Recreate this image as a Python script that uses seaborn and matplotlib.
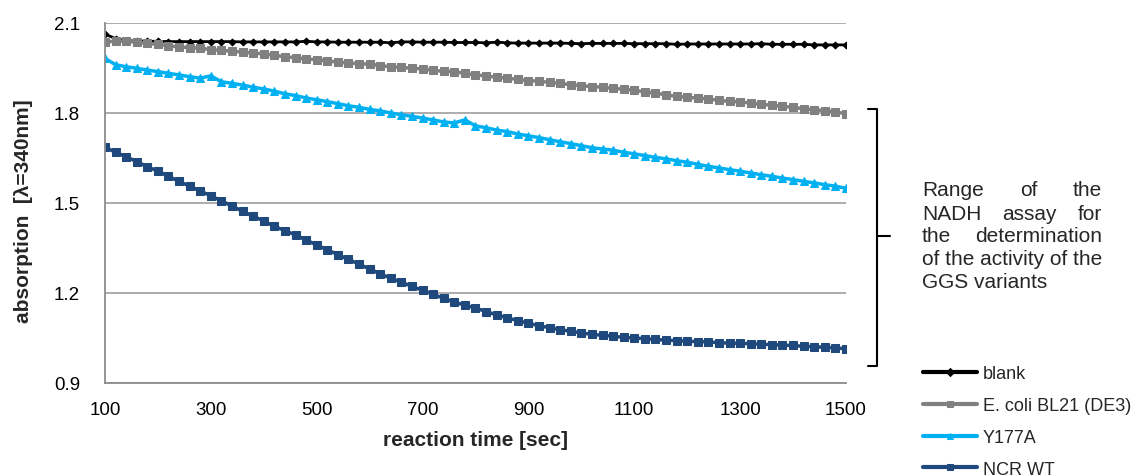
import pandas as pd
import matplotlib
matplotlib.use("Agg")
import matplotlib.pyplot as plt
import seaborn as sns
from matplotlib.ticker import FormatStrFormatter

# time points of the NADH assay, one reading every 20 sec
time_sec = list(range(100, 1501, 20))

# absorption at 340 nm
blank = [2.063, 2.048, 2.041, 2.040, 2.039, 2.039, 2.038, 2.038, 2.038, 2.038,
         2.038, 2.038, 2.038, 2.037, 2.037, 2.037, 2.037, 2.037, 2.037, 2.039,
         2.037, 2.037, 2.036, 2.036, 2.036, 2.036, 2.036, 2.034, 2.037, 2.037,
         2.036, 2.036, 2.036, 2.035, 2.035, 2.035, 2.034, 2.036, 2.034, 2.033,
         2.033, 2.033, 2.033, 2.033, 2.032, 2.031, 2.032, 2.032, 2.032, 2.032,
         2.031, 2.031, 2.031, 2.031, 2.029, 2.030, 2.030, 2.030, 2.030, 2.030,
         2.030, 2.030, 2.031, 2.029, 2.029, 2.029, 2.029, 2.027, 2.027, 2.027,
         2.027]

ecoli = [2.036, 2.040, 2.039, 2.036, 2.032, 2.029, 2.024, 2.020, 2.018, 2.016,
         2.011, 2.009, 2.006, 2.003, 2.000, 1.997, 1.992, 1.988, 1.984, 1.980,
         1.978, 1.974, 1.969, 1.967, 1.964, 1.963, 1.958, 1.954, 1.952, 1.949,
         1.947, 1.942, 1.939, 1.938, 1.932, 1.927, 1.924, 1.919, 1.916, 1.912,
         1.908, 1.906, 1.902, 1.899, 1.894, 1.891, 1.888, 1.886, 1.882, 1.879,
         1.876, 1.870, 1.867, 1.860, 1.856, 1.852, 1.850, 1.847, 1.842, 1.839,
         1.837, 1.833, 1.829, 1.826, 1.822, 1.819, 1.814, 1.811, 1.808, 1.803,
         1.798]

y177a = [1.982, 1.961, 1.954, 1.949, 1.943, 1.938, 1.932, 1.927, 1.921, 1.916,
         1.924, 1.904, 1.899, 1.893, 1.886, 1.880, 1.873, 1.864, 1.858, 1.850,
         1.844, 1.838, 1.831, 1.824, 1.819, 1.812, 1.807, 1.800, 1.794, 1.789,
         1.783, 1.777, 1.770, 1.767, 1.777, 1.757, 1.751, 1.743, 1.738, 1.730,
         1.724, 1.718, 1.711, 1.704, 1.698, 1.691, 1.684, 1.680, 1.676, 1.669,
         1.664, 1.658, 1.652, 1.647, 1.641, 1.636, 1.629, 1.622, 1.617, 1.611,
         1.606, 1.600, 1.594, 1.589, 1.583, 1.578, 1.572, 1.567, 1.561, 1.556,
         1.549]

ncr_wt = [1.686, 1.669, 1.654, 1.638, 1.621, 1.606, 1.589, 1.572, 1.556, 1.540,
          1.524, 1.507, 1.490, 1.472, 1.456, 1.440, 1.422, 1.408, 1.393, 1.377,
          1.360, 1.344, 1.328, 1.312, 1.296, 1.280, 1.264, 1.249, 1.236, 1.222,
          1.209, 1.196, 1.182, 1.170, 1.159, 1.150, 1.138, 1.127, 1.117, 1.108,
          1.099, 1.091, 1.084, 1.078, 1.072, 1.067, 1.062, 1.059, 1.056, 1.052,
          1.050, 1.048, 1.045, 1.043, 1.041, 1.039, 1.038, 1.037, 1.034, 1.033,
          1.032, 1.031, 1.029, 1.028, 1.026, 1.025, 1.022, 1.021, 1.019, 1.017,
          1.014]

sample_names = ["blank", "E. coli BL21 (DE3)", "Y177A", "NCR WT"]
y_ticks = [0.9, 1.2, 1.5, 1.8, 2.1]
x_ticks = [100, 300, 500, 700, 900, 1100, 1300, 1500]

frames = []
for name, vals in zip(sample_names, [blank, ecoli, y177a, ncr_wt]):
    frames.append(pd.DataFrame({"time": time_sec, "absorption": vals, "sample": name}))
df = pd.concat(frames, ignore_index=True)

sns.set_style("white")
plt.rcParams["font.family"] = ["Liberation Sans", "DejaVu Sans"]

colors = {"blank": "#000000", "E. coli BL21 (DE3)": "#808080",
          "Y177A": "#00b0f0", "NCR WT": "#1f497d"}
markers = {"blank": "D", "E. coli BL21 (DE3)": "s", "Y177A": "^", "NCR WT": "s"}
msize = {"blank": 3.5, "E. coli BL21 (DE3)": 5.5, "Y177A": 6, "NCR WT": 6}
lwidth = {"blank": 2.0, "E. coli BL21 (DE3)": 2.5, "Y177A": 2.5, "NCR WT": 2.5}

fig = plt.figure(figsize=(11.36, 4.77), dpi=100)
ax = fig.add_axes([0.0924, 0.195, 0.6523, 0.7547])

for name in sample_names:
    sns.lineplot(data=df[df["sample"] == name], x="time", y="absorption",
                 color=colors[name], marker=markers[name], markersize=msize[name],
                 markeredgecolor=colors[name], linewidth=lwidth[name],
                 errorbar=None, label=name, ax=ax)

ax.set_xlim(100, 1500)
ax.set_ylim(0.9, 2.1)
ax.set_xticks(x_ticks)
ax.set_yticks(y_ticks)
ax.yaxis.set_major_formatter(FormatStrFormatter("%.1f"))
ax.grid(axis="y", color="#a6a6a6", linewidth=1.3)
ax.grid(axis="x", visible=False)
ax.set_axisbelow(True)
for s in ["top", "right"]:
    ax.spines[s].set_visible(False)
for s in ["left", "bottom"]:
    ax.spines[s].set_color("#8c8c8c")
    ax.spines[s].set_linewidth(1.3)
ax.tick_params(axis="both", direction="out", length=7, width=1.3,
               color="#8c8c8c", labelsize=13.5, labelcolor="black")
ax.tick_params(axis="y", pad=11)
ax.tick_params(axis="x", pad=6)

ax.set_xlabel("reaction time [sec]", fontsize=15, fontweight="bold")
ax.set_ylabel("absorption  [\u03bb=340nm]", fontsize=15, fontweight="bold")
ax.xaxis.set_label_coords(0.5, -0.13)
ax.yaxis.set_label_coords(-0.097, 0.479)

# bracket marking the assay range
ax.plot([1.030, 1.042, 1.042, 1.030], [0.761, 0.761, 0.047, 0.047],
        transform=ax.transAxes, clip_on=False, color="black", lw=1.5,
        solid_joinstyle="round")
ax.plot([1.042, 1.059], [0.408, 0.408], transform=ax.transAxes,
        clip_on=False, color="black", lw=1.5)

leg = ax.legend(loc="upper left", bbox_to_anchor=(0.8125, 0.232),
                bbox_transform=fig.transFigure, frameon=False, fontsize=13,
                handlelength=3, handletextpad=0.3, labelspacing=0.82,
                borderpad=0, borderaxespad=0)
for h in leg.legend_handles:
    h.set_markersize(4)
    h.set_linewidth(3)

# justified annotation text
W, H = 1136, 477
x0 = 922
renderer = fig.canvas.get_renderer()
note_lines = [["Range", "of", "the"], ["NADH", "assay", "for"],
              ["the", "determination"], ["of the activity of the"], ["GGS variants"]]
line_y = [191, 214, 237, 260, 283]
ref = fig.text(0, 0, "of the activity of the", fontsize=15)
full_w = ref.get_window_extent(renderer).width
ref.remove()
for words, ypx in zip(note_lines, line_y):
    yf = 1 - ypx / H
    ts = [fig.text(0, yf, w, fontsize=15, va="center", ha="left") for w in words]
    if len(words) > 1:
        ws = [t.get_window_extent(renderer).width for t in ts]
        gap = (full_w - sum(ws)) / (len(words) - 1)
        x = x0
        for t, w in zip(ts, ws):
            t.set_x(x / W)
            x += w + gap
    else:
        ts[0].set_x(x0 / W)

fig.savefig("out.png", dpi=100)
